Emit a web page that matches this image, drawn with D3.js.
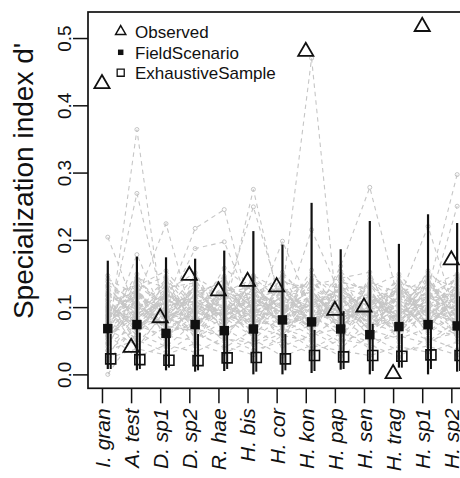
<!DOCTYPE html>
<html><head><meta charset="utf-8">
<script src="https://cdn.jsdelivr.net/npm/d3@7"></script>
<style>body{margin:0;background:#fff}svg{display:block}</style>
</head><body><svg id="c" width="460" height="478"></svg>
<script>
const species = ["I. gran","A. test","D. sp1","D. sp2","R. hae","H. bis","H. cor","H. kon","H. pap","H. sen","H. trag","H. sp1","H. sp2"];
const observed  = [0.432,0.040,0.084,0.147,0.124,0.138,0.130,0.480,0.095,0.100,0.001,0.517,0.170];
const fieldMean = [0.068,0.074,0.061,0.074,0.065,0.0675,0.081,0.078,0.0675,0.059,0.071,0.074,0.072];
const fieldLow  = [0.008,0.006,0.006,0.004,0.005,0.000,0.000,0.002,0.007,0.000,0.010,0.000,0.004];
const fieldHigh = [0.169,0.175,0.174,0.172,0.184,0.213,0.193,0.255,0.186,0.228,0.194,0.238,0.225];
const exhMean   = [0.023,0.022,0.021,0.0205,0.0245,0.025,0.023,0.028,0.026,0.028,0.027,0.029,0.028];
const exhLow    = [0.008,0.008,0.010,0.006,0.008,0.004,0.006,0.005,0.008,0.005,0.010,0.008,0.005];
const exhHigh   = [0.060,0.062,0.058,0.060,0.062,0.064,0.060,0.066,0.094,0.075,0.060,0.069,0.116];
const yTicks = [0.0,0.1,0.2,0.3,0.4,0.5];
const legendLabels = ["Observed","FieldScenario","ExhaustiveSample"];
const yTitle = "Specialization index d'";
// simulated field-scenario profiles (gray dashed lines)
const simulatedProfiles = [
 [0.048,0.364,0.052,0.103,0.088,0.119,0.072,0.091,0.058,0.110,0.083,0.099,0.064],
 [0.204,0.092,0.076,0.118,0.064,0.096,0.081,0.107,0.074,0.089,0.112,0.067,0.121],
 [0.071,0.269,0.087,0.062,0.097,0.074,0.109,0.068,0.121,0.077,0.061,0.108,0.088],
 [0.063,0.178,0.079,0.101,0.088,0.112,0.093,0.071,0.102,0.066,0.117,0.091,0.078],
 [0.087,0.113,0.224,0.069,0.126,0.059,0.098,0.084,0.067,0.121,0.073,0.114,0.096],
 [0.075,0.091,0.106,0.217,0.245,0.081,0.117,0.076,0.129,0.088,0.104,0.069,0.119],
 [0.112,0.066,0.099,0.187,0.197,0.092,0.073,0.121,0.082,0.097,0.126,0.087,0.101],
 [0.069,0.098,0.083,0.107,0.091,0.275,0.086,0.103,0.094,0.073,0.088,0.122,0.079],
 [0.101,0.077,0.121,0.085,0.113,0.249,0.102,0.089,0.108,0.115,0.079,0.097,0.131],
 [0.058,0.119,0.091,0.078,0.102,0.087,0.198,0.097,0.071,0.108,0.092,0.081,0.104],
 [0.084,0.102,0.068,0.094,0.079,0.106,0.124,0.470,0.037,0.083,0.101,0.116,0.087],
 [0.096,0.085,0.114,0.071,0.138,0.097,0.083,0.215,0.117,0.064,0.093,0.108,0.072],
 [0.079,0.107,0.093,0.126,0.085,0.118,0.097,0.079,0.161,0.278,0.108,0.098,0.114],
 [0.091,0.083,0.118,0.102,0.073,0.109,0.129,0.092,0.078,0.101,0.134,0.127,0.297],
 [0.067,0.124,0.079,0.088,0.117,0.064,0.104,0.113,0.096,0.087,0.069,0.099,0.250],
 [0.105,0.071,0.101,0.079,0.094,0.127,0.067,0.106,0.124,0.096,0.112,0.220,0.083],
 [0.000,0.062,0.041,0.078,0.053,0.047,0.069,0.038,0.061,0.049,0.057,0.046,0.072],
 [0.082,0.121,0.064,0.097,0.143,0.071,0.058,0.109,0.126,0.083,0.067,0.115,0.094],
 [0.035,0.068,0.112,0.054,0.079,0.128,0.096,0.063,0.041,0.107,0.139,0.072,0.118],
 [0.109,0.047,0.089,0.131,0.062,0.095,0.144,0.081,0.103,0.056,0.092,0.151,0.066],
 [0.057,0.095,0.138,0.073,0.106,0.052,0.087,0.133,0.069,0.118,0.048,0.099,0.137],
 [0.124,0.083,0.046,0.112,0.091,0.137,0.069,0.052,0.148,0.075,0.113,0.061,0.089],
 [0.071,0.139,0.099,0.042,0.125,0.083,0.118,0.097,0.078,0.134,0.071,0.127,0.053],
 [0.093,0.058,0.127,0.088,0.049,0.114,0.075,0.142,0.091,0.062,0.124,0.084,0.146],
 [0.018,0.076,0.081,0.119,0.097,0.062,0.131,0.074,0.115,0.098,0.057,0.138,0.102],
 [0.138,0.104,0.072,0.065,0.134,0.099,0.053,0.121,0.059,0.141,0.101,0.049,0.079],
 [0.066,0.131,0.154,0.101,0.073,0.145,0.106,0.066,0.132,0.087,0.079,0.112,0.124],
 [0.101,0.039,0.097,0.146,0.115,0.077,0.089,0.155,0.084,0.052,0.133,0.093,0.061],
 [0.045,0.112,0.059,0.086,0.158,0.123,0.067,0.091,0.107,0.119,0.086,0.154,0.108],
 [0.128,0.087,0.133,0.059,0.084,0.056,0.152,0.104,0.072,0.094,0.145,0.068,0.131],
 [0.079,0.149,0.078,0.127,0.101,0.108,0.081,0.058,0.137,0.127,0.063,0.106,0.085],
 [0.112,0.062,0.118,0.094,0.068,0.147,0.123,0.116,0.097,0.069,0.118,0.131,0.149],
 [0.053,0.099,0.141,0.079,0.129,0.089,0.061,0.087,0.153,0.113,0.099,0.078,0.097],
 [0.089,0.125,0.067,0.139,0.087,0.066,0.137,0.128,0.064,0.146,0.074,0.143,0.071],
 [0.147,0.071,0.104,0.108,0.119,0.132,0.094,0.069,0.121,0.081,0.129,0.089,0.117],
 [0.027,0.093,0.085,0.068,0.056,0.101,0.113,0.139,0.088,0.105,0.088,0.121,0.139],
 [0.116,0.133,0.051,0.122,0.137,0.079,0.071,0.094,0.145,0.064,0.107,0.064,0.092],
 [0.074,0.054,0.124,0.151,0.076,0.118,0.147,0.113,0.067,0.129,0.149,0.101,0.075],
 [0.097,0.117,0.093,0.083,0.109,0.093,0.085,0.147,0.112,0.072,0.082,0.147,0.127],
 [0.062,0.084,0.107,0.113,0.146,0.061,0.127,0.078,0.094,0.137,0.121,0.083,0.058],
 [0.133,0.108,0.062,0.074,0.093,0.127,0.099,0.124,0.079,0.099,0.066,0.117,0.143],
 [0.086,0.143,0.129,0.136,0.067,0.085,0.116,0.101,0.129,0.116,0.094,0.134,0.086],
 [0.104,0.066,0.087,0.057,0.122,0.142,0.074,0.086,0.101,0.078,0.137,0.072,0.112],
 [0.041,0.127,0.146,0.098,0.104,0.073,0.104,0.132,0.143,0.152,0.056,0.096,0.101],
 [0.119,0.091,0.075,0.128,0.081,0.104,0.135,0.057,0.086,0.091,0.114,0.125,0.068],
 [0.024,0.038,0.029,0.046,0.031,0.052,0.027,0.043,0.035,0.028,0.041,0.033,0.048],
 [0.058,0.026,0.044,0.033,0.055,0.036,0.049,0.031,0.052,0.044,0.026,0.054,0.037],
 [0.036,0.051,0.033,0.061,0.042,0.029,0.058,0.049,0.027,0.057,0.035,0.042,0.029],
 [0.094,0.072,0.118,0.105,0.086,0.078,0.109,0.095,0.116,0.074,0.098,0.087,0.122],
 [0.052,0.115,0.086,0.092,0.121,0.112,0.091,0.118,0.083,0.109,0.122,0.096,0.081],
 [0.117,0.096,0.131,0.077,0.098,0.134,0.082,0.079,0.099,0.123,0.077,0.118,0.106],
 [0.076,0.134,0.097,0.124,0.082,0.091,0.124,0.136,0.107,0.093,0.115,0.079,0.134],
 [0.131,0.081,0.109,0.097,0.131,0.117,0.101,0.084,0.131,0.082,0.103,0.139,0.093],
 [0.088,0.107,0.071,0.133,0.108,0.072,0.139,0.123,0.074,0.135,0.091,0.107,0.121],
 [0.064,0.089,0.122,0.081,0.094,0.141,0.078,0.105,0.119,0.101,0.128,0.092,0.078],
 [0.142,0.118,0.091,0.116,0.141,0.094,0.115,0.092,0.089,0.117,0.084,0.126,0.115],
 [0.099,0.058,0.143,0.089,0.115,0.106,0.093,0.127,0.104,0.068,0.139,0.113,0.142],
 [0.073,0.126,0.079,0.142,0.073,0.121,0.129,0.071,0.138,0.124,0.072,0.081,0.098],
 [0.121,0.101,0.117,0.066,0.127,0.083,0.068,0.115,0.092,0.107,0.119,0.144,0.071],
 [0.083,0.141,0.102,0.109,0.089,0.138,0.121,0.099,0.111,0.086,0.095,0.103,0.127],
 [0.046,0.073,0.057,0.051,0.068,0.044,0.061,0.072,0.048,0.066,0.053,0.069,0.057],
 [0.067,0.043,0.071,0.064,0.039,0.067,0.042,0.058,0.069,0.038,0.071,0.051,0.062],
 [0.108,0.122,0.084,0.132,0.118,0.101,0.107,0.141,0.127,0.131,0.106,0.121,0.109],
 [0.056,0.087,0.128,0.071,0.099,0.087,0.132,0.088,0.058,0.099,0.087,0.136,0.084]
];

const FONT = "'Liberation Sans', Arial, Helvetica, sans-serif";
const svg = d3.select("#c");
const x = d3.scaleLinear().domain([0.52, 13.48]).range([88, 465.3]);
const y = d3.scaleLinear().domain([-0.0207, 0.5387]).range([388.3, 12]);
const offField = 0.2, offExh = 0.3;

// gray simulated lines
const gSim = svg.append("g");
const line = d3.line().x((d,i)=>x(i+1+offField)).y(d=>y(d));
gSim.selectAll("path").data(simulatedProfiles).join("path")
  .attr("d", line).attr("fill","none").attr("stroke","#c6c6c6")
  .attr("stroke-width",1.1).attr("stroke-dasharray","4.5,4");
simulatedProfiles.forEach(s => {
  gSim.append("g").selectAll("circle").data(s).join("circle")
    .attr("cx",(d,i)=>x(i+1+offField)).attr("cy",d=>y(d)).attr("r",2)
    .attr("fill","none").attr("stroke","#bdbdbd").attr("stroke-width",0.9);
});

// range lines
const gL = svg.append("g");
gL.selectAll(".fl").data(species).join("line")
  .attr("x1",(d,i)=>x(i+1+offField)).attr("x2",(d,i)=>x(i+1+offField))
  .attr("y1",(d,i)=>y(fieldLow[i])).attr("y2",(d,i)=>y(fieldHigh[i]))
  .attr("stroke","#111").attr("stroke-width",2.2);
gL.selectAll(".el").data(species).join("line")
  .attr("x1",(d,i)=>x(i+1+offExh)).attr("x2",(d,i)=>x(i+1+offExh))
  .attr("y1",(d,i)=>y(exhLow[i])).attr("y2",(d,i)=>y(exhHigh[i]))
  .attr("stroke","#111").attr("stroke-width",2);

// points
const tri = d3.symbol().type(d3.symbolTriangle).size(100);
const sqF = d3.symbol().type(d3.symbolSquare).size(90);
const sqO = d3.symbol().type(d3.symbolSquare).size(100);
svg.append("g").selectAll("path").data(fieldMean).join("path")
  .attr("d", sqF).attr("transform",(d,i)=>`translate(${x(i+1+offField)},${y(d)})`)
  .attr("fill","#111");
svg.append("g").selectAll("path").data(exhMean).join("path")
  .attr("d", sqO).attr("transform",(d,i)=>`translate(${x(i+1+offExh)},${y(d)})`)
  .attr("fill","none").attr("stroke","#111").attr("stroke-width",1.6);
svg.append("g").selectAll("path").data(observed).join("path")
  .attr("d", tri).attr("transform",(d,i)=>`translate(${x(i+1)},${y(d)})`)
  .attr("fill","none").attr("stroke","#111").attr("stroke-width",1.8);

// box
svg.append("rect").attr("x",x.range()[0]).attr("y",y.range()[1])
  .attr("width",x.range()[1]-x.range()[0]).attr("height",y.range()[0]-y.range()[1])
  .attr("fill","none").attr("stroke","#111").attr("stroke-width",1.7);

// y axis
const ya = svg.append("g").attr("transform",`translate(${x.range()[0]},0)`)
  .call(d3.axisLeft(y).tickValues(yTicks).tickSize(15).tickFormat(d3.format(".1f")));
ya.select(".domain").remove();
ya.selectAll(".tick line").attr("stroke","#111").attr("stroke-width",1.5);
ya.selectAll(".tick text").attr("x",null).attr("dy",null)
  .attr("transform","translate(-17,0) rotate(-90)").attr("text-anchor","middle")
  .attr("font-family",FONT).attr("font-size",19).attr("fill","#111");

// x axis
const xa = svg.append("g").attr("transform",`translate(0,${y.range()[0]})`)
  .call(d3.axisBottom(x).tickValues(d3.range(1,species.length+1)).tickSize(15)
  .tickFormat(d=>species[d-1]));
xa.select(".domain").remove();
xa.selectAll(".tick line").attr("stroke","#111").attr("stroke-width",1.5);
xa.selectAll(".tick text").attr("y",null).attr("dy","0.35em")
  .attr("transform","translate(0,20) rotate(-90)").attr("text-anchor","end")
  .attr("font-family",FONT).attr("font-size",21).attr("font-style","italic").attr("fill","#111");

// y title
svg.append("text").attr("transform","translate(33,181) rotate(-90)")
  .attr("text-anchor","middle").attr("font-family",FONT).attr("font-size",28)
  .attr("fill","#111").text(yTitle);

// legend
const lg = svg.append("g");
const lgY = [31.5, 52.3, 72.7];
const lgX = 120.7;
lg.append("path").attr("d", d3.symbol().type(d3.symbolTriangle).size(45)())
  .attr("transform",`translate(${lgX},${lgY[0]})`).attr("fill","none").attr("stroke","#111").attr("stroke-width",1.5);
lg.append("path").attr("d", d3.symbol().type(d3.symbolSquare).size(30)())
  .attr("transform",`translate(${lgX},${lgY[1]})`).attr("fill","#111");
lg.append("path").attr("d", d3.symbol().type(d3.symbolSquare).size(50)())
  .attr("transform",`translate(${lgX},${lgY[2]})`).attr("fill","none").attr("stroke","#111").attr("stroke-width",1.3);
lg.selectAll("text").data(legendLabels).join("text")
  .attr("x",135).attr("y",(d,i)=>lgY[i]+6.5)
  .attr("font-family",FONT).attr("font-size",17).attr("fill","#111").text(d=>d);
</script></body></html>
